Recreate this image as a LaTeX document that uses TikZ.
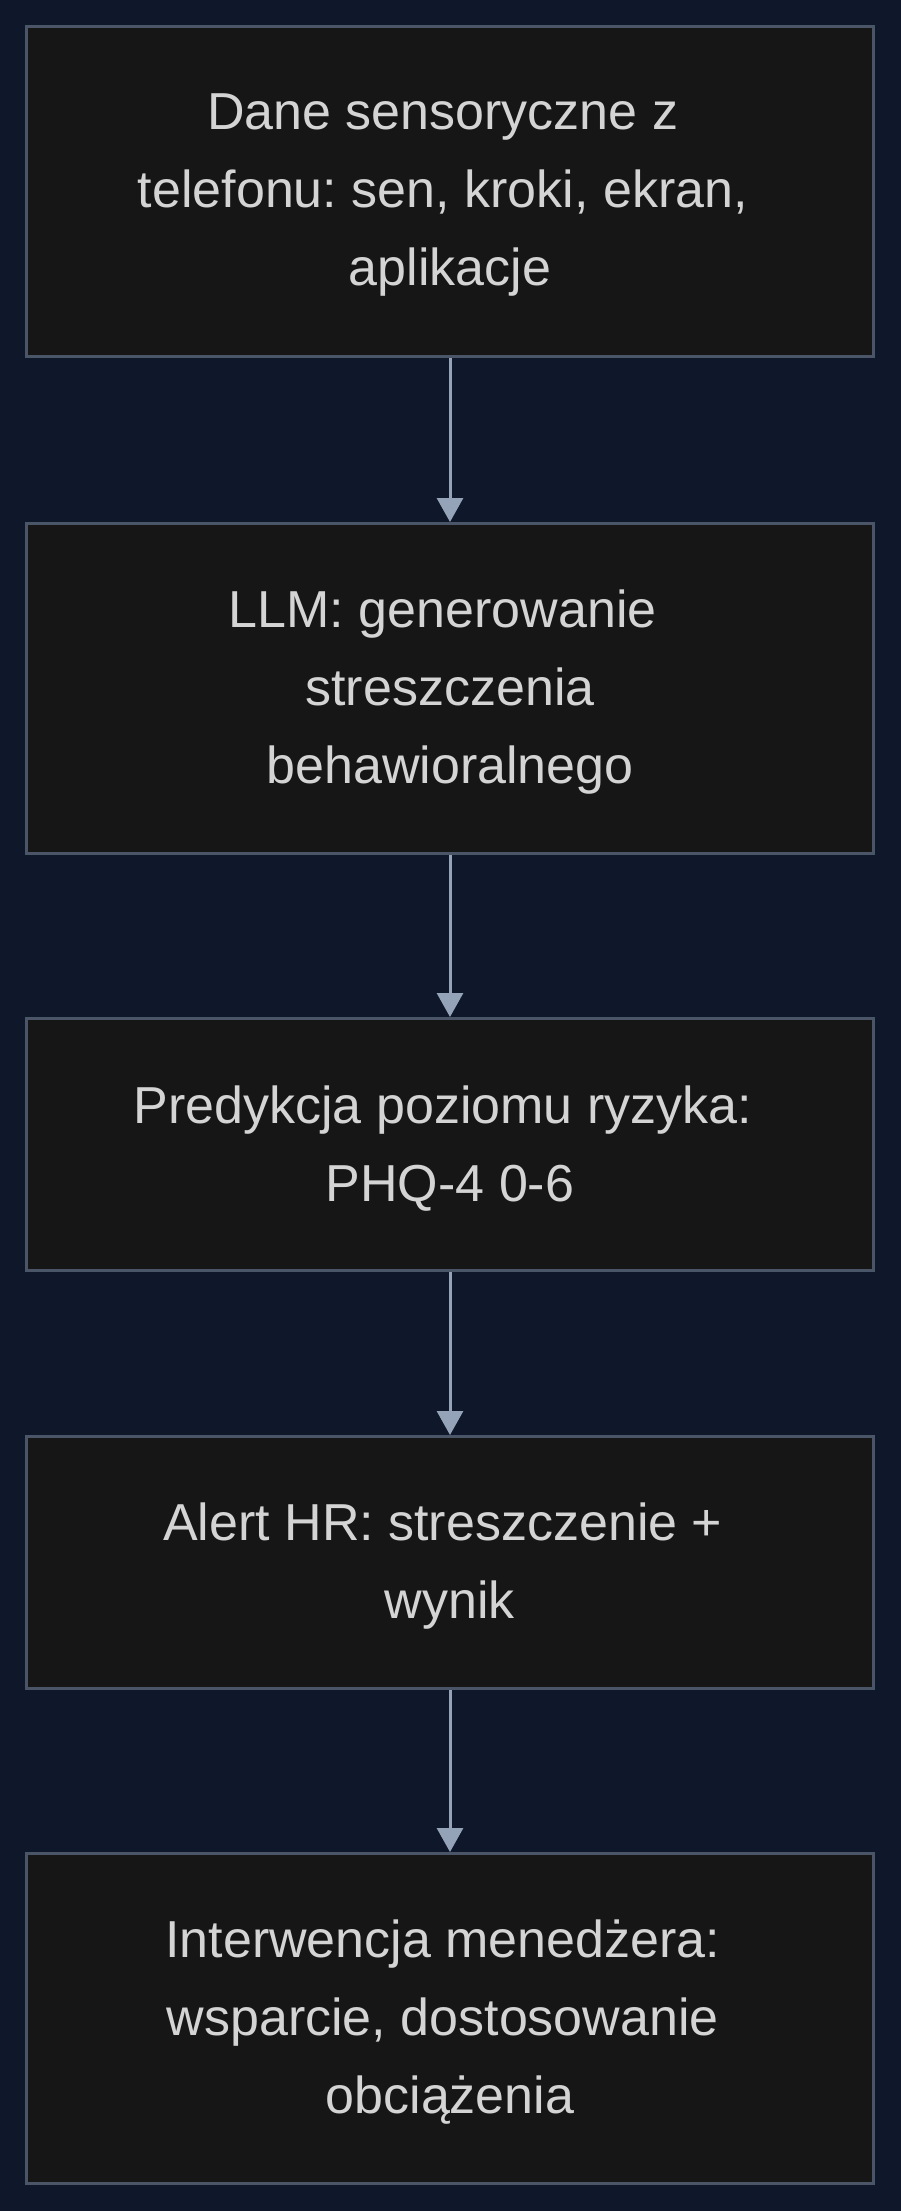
\documentclass[tikz,border=0pt]{standalone}
\usepackage{fontspec}
\setmainfont{Liberation Sans}
\frenchspacing
\usetikzlibrary{arrows.meta}
\definecolor{bgc}{HTML}{0F172A}
\definecolor{boxfill}{HTML}{161616}
\definecolor{boxline}{HTML}{4A5568}
\definecolor{arrowc}{HTML}{94A3B8}
\definecolor{txt}{HTML}{D4D4D4}
\newcommand{\tsp}{\hbox to 0.278em{}}
\begin{document}
\begin{tikzpicture}[x=1pt,y=1pt,
  stepbox/.style={draw=boxline, fill=boxfill, line width=3pt, minimum width=847pt, inner sep=0pt},
  steptext/.style={align=center, text=txt, inner sep=0pt, font=\fontsize{52}{78}\selectfont},
  flow/.style={draw=arrowc, line width=3pt, -{Triangle[length=24pt,width=26pt]}, color=arrowc}]
\useasboundingbox (0,0) rectangle (900,-2211);
\fill[bgc] (-10,10) rectangle (910,-2221);
\node[stepbox, minimum height=330pt] (a) at (450,-191.5) {};
\node[stepbox, minimum height=330pt] (b) at (450,-688.5) {};
\node[stepbox, minimum height=252pt] (c) at (450,-1144.5) {};
\node[stepbox, minimum height=252pt] (d) at (450,-1562.5) {};
\node[stepbox, minimum height=330pt] (e) at (450,-2018.5) {};
\node[steptext] (at) at ([yshift=-4pt]a.center) {Dane sensoryczne z\tsp\\telefonu: sen, kroki, ekran,\tsp\\aplikacje};
\node[steptext] (bt) at ([yshift=-4pt]b.center) {LLM: generowanie\tsp\\streszczenia\\behawioralnego};
\node[steptext] (ct) at ([yshift=-4pt]c.center) {Predykcja poziomu ryzyka:\tsp\\PHQ-4 0-6};
\node[steptext] (dt) at ([yshift=-4pt]d.center) {Alert HR: streszczenie +\tsp\\wynik};
\node[steptext] (et) at ([yshift=-4pt]e.center) {Interwencja menedżera:\tsp\\wsparcie, dostosowanie\tsp\\obciążenia};
\draw[flow] (a) -- (b);
\draw[flow] (b) -- (c);
\draw[flow] (c) -- (d);
\draw[flow] (d) -- (e);
\end{tikzpicture}
\end{document}
